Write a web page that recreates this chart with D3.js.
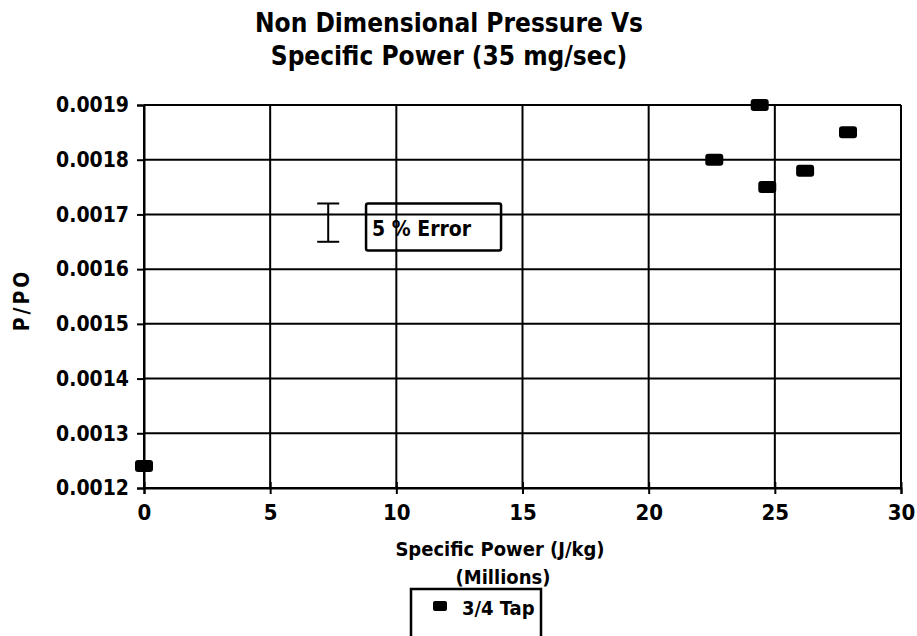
<!DOCTYPE html>
<html>
<head>
<meta charset="utf-8">
<script src="https://cdn.jsdelivr.net/npm/d3@7"></script>
<style>
  body { margin: 0; background: #fff; }
  svg { display: block; }
  text { font-family: "DejaVu Sans Condensed", "DejaVu Sans", sans-serif; font-weight: bold; fill: #000; }
</style>
</head>
<body>
<div id="chart"></div>
<script>
// data
const power = [0, 22.6, 24.4, 24.7, 26.2, 27.9];           // J/kg (millions)
const pRatio = [0.00124, 0.0018, 0.0019, 0.00175, 0.00178, 0.00185];
const xTicks = [0, 5, 10, 15, 20, 25, 30];
const yTicks = [0.0012, 0.0013, 0.0014, 0.0015, 0.0016, 0.0017, 0.0018, 0.0019];
const errBarX = [7.3];
const errBarY = [0.00165, 0.00172];
const titleLines = ["Non Dimensional Pressure Vs", "Specific Power (35 mg/sec)"];
const seriesName = "3/4 Tap";

function drawChart() {
    const W = 917, H = 636;
    const margin = { top: 105, right: 16, bottom: 148, left: 144 };
    const width = W - margin.left - margin.right;
    const height = H - margin.top - margin.bottom;

    const root = d3.select("#chart").append("svg")
        .attr("width", W)
        .attr("height", H);

    const svg = root.append("g")
        .attr("transform", `translate(${margin.left},${margin.top})`);

    const x = d3.scaleLinear().domain([0, 30]).range([0, width]);
    const y = d3.scaleLinear().domain([0.0012, 0.0019]).range([height, 0]);

    // grid
    svg.append("g").selectAll("line")
        .data(yTicks)
        .enter().append("line")
        .attr("x1", 0).attr("x2", width)
        .attr("y1", d => y(d)).attr("y2", d => y(d))
        .attr("stroke", "#000").attr("stroke-width", 2);

    svg.append("g").selectAll("line")
        .data(xTicks)
        .enter().append("line")
        .attr("x1", d => x(d)).attr("x2", d => x(d))
        .attr("y1", 0).attr("y2", height)
        .attr("stroke", "#000").attr("stroke-width", 2);

    // axes
    const yAxis = svg.append("g")
        .call(d3.axisLeft(y).tickValues(yTicks).tickSize(7).tickPadding(8).tickFormat(d3.format(".4f")));
    yAxis.select(".domain").attr("stroke-width", 2);
    yAxis.selectAll(".tick line").attr("stroke-width", 2);
    yAxis.selectAll("text").style("font-size", "21px").attr("fill", "#000");

    const xAxis = svg.append("g")
        .attr("transform", `translate(0,${height})`)
        .call(d3.axisBottom(x).tickValues(xTicks).tickSize(6).tickPadding(10));
    xAxis.select(".domain").attr("stroke-width", 2);
    xAxis.selectAll(".tick line").attr("y1", -6).attr("stroke-width", 2);
    xAxis.selectAll("text").style("font-size", "22px").attr("fill", "#000");

    // error bar
    const ex = x(errBarX[0]);
    svg.append("line")
        .attr("x1", ex).attr("x2", ex)
        .attr("y1", y(errBarY[0])).attr("y2", y(errBarY[1]))
        .attr("stroke", "#000").attr("stroke-width", 2);
    svg.selectAll(".cap")
        .data(errBarY)
        .enter().append("line")
        .attr("class", "cap")
        .attr("x1", ex - 11).attr("x2", ex + 11)
        .attr("y1", d => y(d)).attr("y2", d => y(d))
        .attr("stroke", "#000").attr("stroke-width", 2);

    const boxX = x(8.8), boxY = y(0.00172);
    svg.append("rect")
        .attr("x", boxX).attr("y", boxY)
        .attr("width", 135).attr("height", 47)
        .attr("rx", 2)
        .attr("fill", "none").attr("stroke", "#000").attr("stroke-width", 2.5);
    svg.append("text")
        .attr("x", boxX + 6).attr("y", boxY + 33)
        .style("font-size", "21px")
        .text("5 % Error");

    // points
    svg.selectAll(".pt")
        .data(power)
        .enter().append("rect")
        .attr("class", "pt")
        .attr("x", d => x(d) - 9)
        .attr("y", (d, i) => y(pRatio[i]) - 6)
        .attr("width", 18).attr("height", 12)
        .attr("rx", 3)
        .attr("fill", "#000");

    // title
    root.append("text")
        .attr("x", 449).attr("y", 32)
        .attr("text-anchor", "middle")
        .style("font-size", "26px")
        .style("font-weight", "600")
        .selectAll("tspan")
        .data(titleLines)
        .enter().append("tspan")
        .attr("x", 449)
        .attr("dy", (d, i) => i === 0 ? 0 : 33)
        .text(d => d);

    // axis labels
    root.append("text")
        .attr("x", 500).attr("y", 556)
        .attr("text-anchor", "middle")
        .style("font-size", "20px")
        .text("Specific Power (J/kg)");
    root.append("text")
        .attr("x", 503).attr("y", 584)
        .attr("text-anchor", "middle")
        .style("font-size", "20px")
        .text("(Millions)");

    root.append("text")
        .attr("transform", "translate(29,300) rotate(-90)")
        .attr("text-anchor", "middle")
        .style("font-size", "21px")
        .style("letter-spacing", "3px")
        .text("P/PO");

    // legend
    const lg = root.append("g").attr("transform", "translate(411,589)");
    lg.append("rect")
        .attr("width", 130).attr("height", 60)
        .attr("fill", "none").attr("stroke", "#000").attr("stroke-width", 2.5);
    lg.append("rect")
        .attr("x", 22).attr("y", 12)
        .attr("width", 14).attr("height", 10)
        .attr("rx", 2).attr("fill", "#000");
    lg.append("text")
        .attr("x", 51).attr("y", 26)
        .style("font-size", "20px")
        .text(seriesName);
}

drawChart();
</script>
</body>
</html>
